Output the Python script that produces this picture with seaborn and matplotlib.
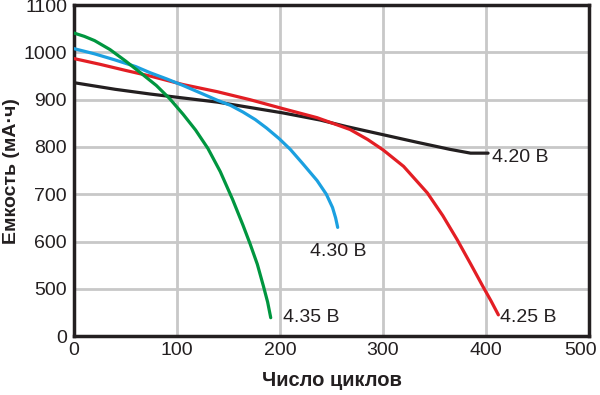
import pandas as pd
import seaborn as sns
import matplotlib.pyplot as plt
import matplotlib.transforms as mtransforms

# cycles / capacity (the lowest tick "0" sits at 400: broken axis)
cyc_420 = [0, 40, 74, 139, 203, 239, 265, 300, 333, 365, 385, 402]
cap_420 = [936, 922, 912, 895, 872, 857, 843, 826, 810, 795, 787, 787]

cyc_425 = [0, 25, 50, 74, 106, 139, 171, 203, 236, 268, 285, 300, 320, 343,
           358, 372, 385, 397, 405, 412]
cap_425 = [987, 975, 962, 950, 932, 917, 900, 881, 862, 837, 816, 794, 759, 703,
           655, 604, 553, 505, 474, 445]

cyc_430 = [0, 20, 40, 60, 74, 90, 106, 122, 139, 152, 164, 176, 187, 199, 210,
           222, 236, 245, 251, 254, 256]
cap_430 = [1008, 997, 984, 970, 957, 944, 930, 915, 899, 888, 874, 858, 840, 818,
           795, 765, 729, 700, 672, 650, 630]

cyc_435 = [0, 10, 20, 35, 50, 64, 80, 93, 106, 118, 130, 142, 154, 164, 171, 178,
           184, 188, 191]
cap_435 = [1041, 1034, 1025, 1006, 982, 958, 930, 902, 869, 836, 797, 748, 689, 635,
           595, 552, 505, 472, 439]

series = ["4.20 В", "4.25 В", "4.30 В", "4.35 В"]
colors = ["#231f20", "#e31e24", "#1ba0e0", "#00963f"]

y_ticks = [400, 500, 600, 700, 800, 900, 1000, 1100]
y_labels = ["0", "500", "600", "700", "800", "900", "1000", "1100"]
x_ticks = [0, 100, 200, 300, 400, 500]

rows = []
for name, xs, ys in zip(series, [cyc_420, cyc_425, cyc_430, cyc_435],
                        [cap_420, cap_425, cap_430, cap_435]):
    for a, b in zip(xs, ys):
        rows.append((name, a, b))
df = pd.DataFrame(rows, columns=["series", "cycles", "capacity"])

sns.set_style("white")
plt.rcParams['font.family'] = ['Liberation Sans', 'DejaVu Sans']

fig = plt.figure(figsize=(6, 3.95), dpi=100)
ax = fig.add_axes([0.1233, 0.149, 0.8584, 0.838])

sns.lineplot(data=df, x="cycles", y="capacity", hue="series", palette=colors,
             sort=False, linewidth=2.3, legend=False, ax=ax, zorder=3)

ax.set_xlim(0, 500)
ax.set_ylim(400, 1100)
ax.set_xticks(x_ticks)
ax.set_yticks(y_ticks)
ax.set_yticklabels(y_labels)
ax.tick_params(labelsize=14, length=0, colors="#231f20")
ax.tick_params(axis="y", pad=5)
ax.tick_params(axis="x", pad=4)
ax.grid(True, color="#c8c8c8", linewidth=2)
for s in ax.spines.values():
    s.set_color("#231f20")
    s.set_linewidth(2.5)

# last x tick label sits against the right edge in the reference
last = ax.get_xticklabels()[-1]
last.set_transform(last.get_transform() +
                   mtransforms.ScaledTranslation(-8 / 100, 0, fig.dpi_scale_trans))

ax.set_xlabel("Число циклов", fontsize=14.5, fontweight="bold", labelpad=9,
              color="#231f20")
ax.set_ylabel("Емкость (мА·ч)", fontsize=14, fontweight="bold",
              color="#231f20")
ax.yaxis.set_label_coords(-0.122, 0.5)
ax.yaxis.label.set_va("center")

label_pos = {"4.20 В": (406, 777), "4.30 В": (229, 579),
             "4.35 В": (203, 439), "4.25 В": (414, 439)}
for name, (lx, ly) in label_pos.items():
    ax.text(lx, ly, name, fontsize=14, color="#231f20", ha="left", va="center")

fig.savefig("out.png", dpi=100)
